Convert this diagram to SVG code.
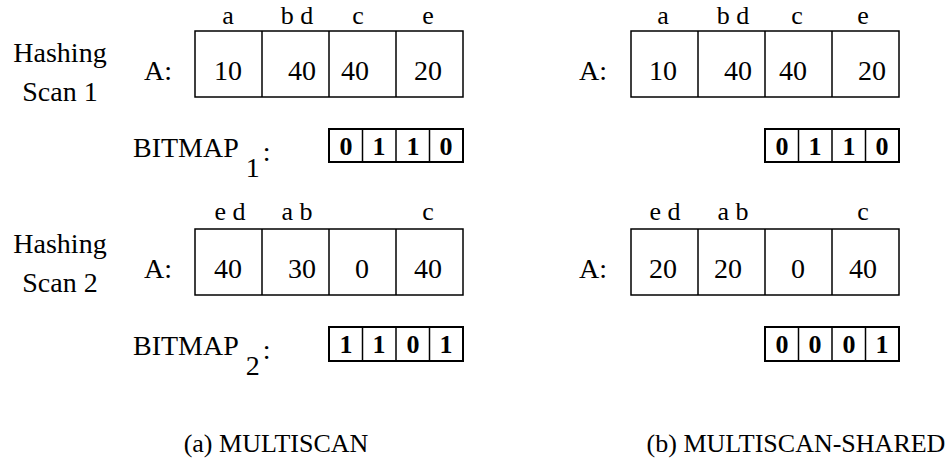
<svg xmlns="http://www.w3.org/2000/svg" width="948" height="459" viewBox="0 0 948 459">
<style>
text{font-family:'Liberation Serif','Tinos','Times New Roman','Times','DejaVu Serif',serif;font-size:28px;fill:#000}
.c{text-anchor:middle}
.l{text-anchor:middle;font-size:26px}
.b{font-weight:bold;text-anchor:middle;font-size:26px}
.cap{font-size:26px;text-anchor:middle}
.box{fill:#fff;stroke:#000;stroke-width:1.5}
.bm{fill:#fff;stroke:#000;stroke-width:2}
.d{stroke:#000;stroke-width:1.5}
.bd{stroke:#000;stroke-width:1.5}
</style>
<rect width="948" height="459" fill="#fff"/>

<g id="scan1-label">
<text class="c" x="60" y="62">Hashing</text>
<text class="c" x="60" y="101">Scan 1</text>
</g>
<g id="scan2-label">
<text class="c" x="60" y="253">Hashing</text>
<text class="c" x="60" y="292">Scan 2</text>
</g>

<g id="a-scan1-array">
<text class="c" x="158" y="80">A:</text>
<rect class="box" x="195" y="31" width="268" height="66"/>
<line class="d" x1="262" y1="31" x2="262" y2="97"/>
<line class="d" x1="329" y1="31" x2="329" y2="97"/>
<line class="d" x1="396" y1="31" x2="396" y2="97"/>
<text class="l" x="228" y="24">a</text>
<text class="l" x="297" y="24">b d</text>
<text class="l" x="358" y="24">c</text>
<text class="l" x="428" y="24">e</text>
<text class="c" x="228" y="80">10</text>
<text class="c" x="302" y="80">40</text>
<text class="c" x="355" y="80">40</text>
<text class="c" x="428" y="80">20</text>
</g>

<g id="a-bitmap1">
<text x="133" y="157">BITMAP<tspan dx="7" dy="20">1</tspan><tspan dx="3" dy="-16">:</tspan></text>
<rect class="bm" x="329" y="129" width="134" height="33"/>
<line class="bd" x1="362.5" y1="129" x2="362.5" y2="162"/>
<line class="bd" x1="396" y1="129" x2="396" y2="162"/>
<line class="bd" x1="429.5" y1="129" x2="429.5" y2="162"/>
<text class="b" x="346" y="155">0</text>
<text class="b" x="379" y="155">1</text>
<text class="b" x="413" y="155">1</text>
<text class="b" x="446" y="155">0</text>
</g>

<g id="a-scan2-array">
<text class="c" x="158" y="278">A:</text>
<rect class="box" x="195" y="229" width="268" height="66"/>
<line class="d" x1="262" y1="229" x2="262" y2="295"/>
<line class="d" x1="329" y1="229" x2="329" y2="295"/>
<line class="d" x1="396" y1="229" x2="396" y2="295"/>
<text class="l" x="230" y="220">e d</text>
<text class="l" x="297" y="220">a b</text>
<text class="l" x="428" y="220">c</text>
<text class="c" x="228" y="278">40</text>
<text class="c" x="302" y="278">30</text>
<text class="c" x="362" y="278">0</text>
<text class="c" x="428" y="278">40</text>
</g>

<g id="a-bitmap2">
<text x="133" y="355">BITMAP<tspan dx="7" dy="20">2</tspan><tspan dx="3" dy="-16">:</tspan></text>
<rect class="bm" x="329" y="327" width="134" height="34"/>
<line class="bd" x1="362.5" y1="327" x2="362.5" y2="361"/>
<line class="bd" x1="396" y1="327" x2="396" y2="361"/>
<line class="bd" x1="429.5" y1="327" x2="429.5" y2="361"/>
<text class="b" x="346" y="353">1</text>
<text class="b" x="379" y="353">1</text>
<text class="b" x="413" y="353">0</text>
<text class="b" x="446" y="353">1</text>
</g>

<g id="b-scan1-array">
<text class="c" x="593" y="80">A:</text>
<rect class="box" x="631" y="31" width="268" height="66"/>
<line class="d" x1="698" y1="31" x2="698" y2="97"/>
<line class="d" x1="765" y1="31" x2="765" y2="97"/>
<line class="d" x1="832" y1="31" x2="832" y2="97"/>
<text class="l" x="663" y="24">a</text>
<text class="l" x="733" y="24">b d</text>
<text class="l" x="797" y="24">c</text>
<text class="l" x="863" y="24">e</text>
<text class="c" x="663" y="80">10</text>
<text class="c" x="738" y="80">40</text>
<text class="c" x="793" y="80">40</text>
<text class="c" x="872" y="80">20</text>
</g>

<g id="b-bitmap1">
<rect class="bm" x="765" y="129" width="134" height="33"/>
<line class="bd" x1="798.5" y1="129" x2="798.5" y2="162"/>
<line class="bd" x1="832" y1="129" x2="832" y2="162"/>
<line class="bd" x1="865.5" y1="129" x2="865.5" y2="162"/>
<text class="b" x="782" y="155">0</text>
<text class="b" x="815" y="155">1</text>
<text class="b" x="849" y="155">1</text>
<text class="b" x="882" y="155">0</text>
</g>

<g id="b-scan2-array">
<text class="c" x="593" y="278">A:</text>
<rect class="box" x="631" y="229" width="268" height="66"/>
<line class="d" x1="698" y1="229" x2="698" y2="295"/>
<line class="d" x1="765" y1="229" x2="765" y2="295"/>
<line class="d" x1="832" y1="229" x2="832" y2="295"/>
<text class="l" x="665" y="220">e d</text>
<text class="l" x="733" y="220">a b</text>
<text class="l" x="863" y="220">c</text>
<text class="c" x="663" y="278">20</text>
<text class="c" x="728" y="278">20</text>
<text class="c" x="798" y="278">0</text>
<text class="c" x="863" y="278">40</text>
</g>

<g id="b-bitmap2">
<rect class="bm" x="765" y="327" width="134" height="34"/>
<line class="bd" x1="798.5" y1="327" x2="798.5" y2="361"/>
<line class="bd" x1="832" y1="327" x2="832" y2="361"/>
<line class="bd" x1="865.5" y1="327" x2="865.5" y2="361"/>
<text class="b" x="782" y="353">0</text>
<text class="b" x="815" y="353">0</text>
<text class="b" x="849" y="353">0</text>
<text class="b" x="882" y="353">1</text>
</g>

<g id="captions">
<text class="cap" x="276" y="452">(a) MULTISCAN</text>
<text class="cap" x="796" y="452">(b) MULTISCAN-SHARED</text>
</g>
</svg>
